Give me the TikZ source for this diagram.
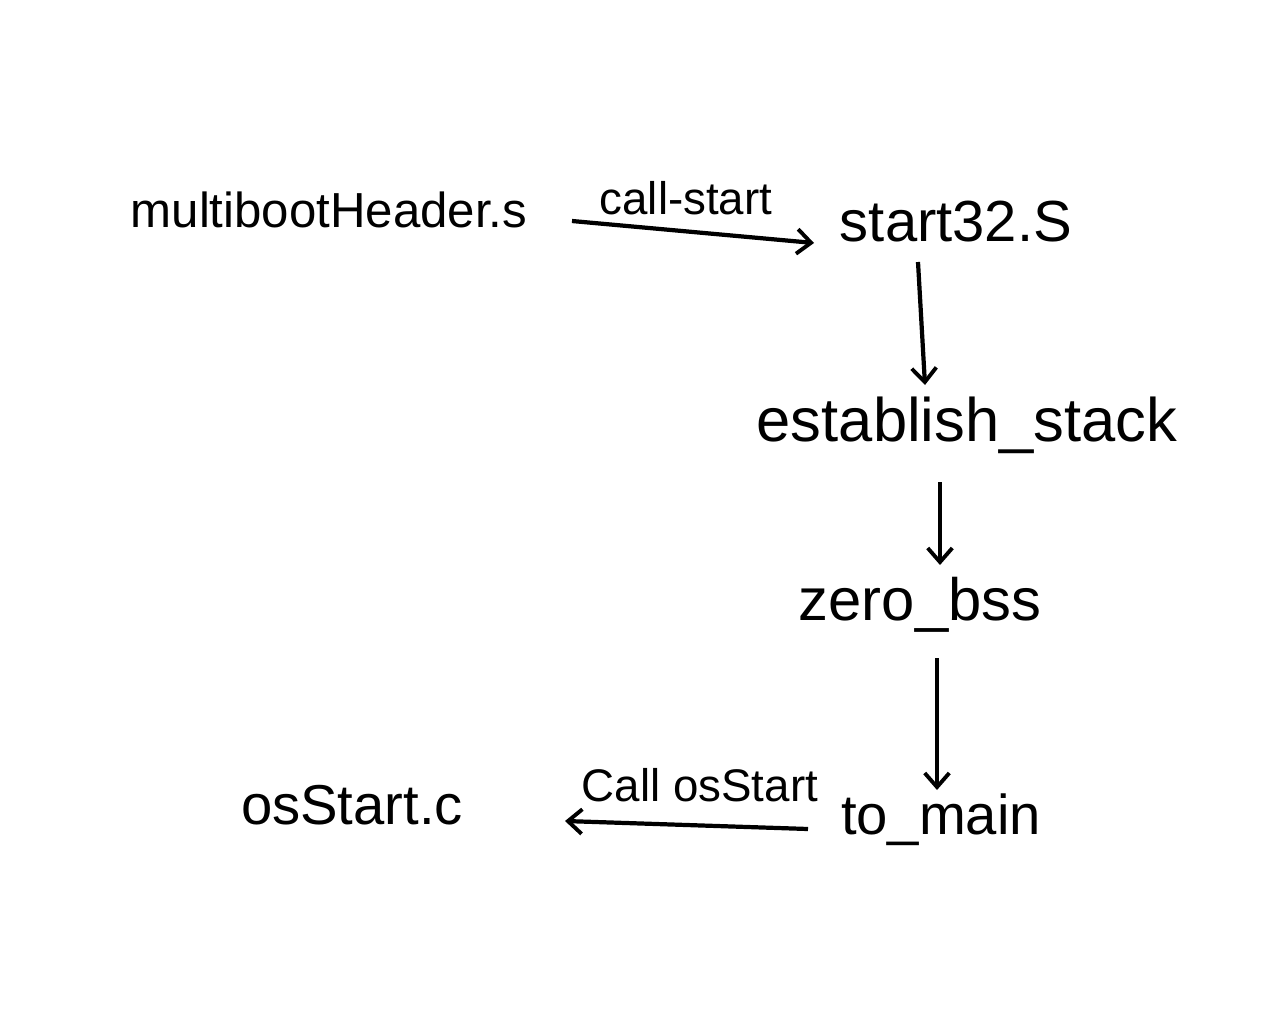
\documentclass[tikz,border=0pt]{standalone}
\usepackage{fontspec}
\setmainfont{Liberation Sans}
\usetikzlibrary{arrows.meta}
\newcommand{\fsz}[1]{\fontsize{#1}{#1}\selectfont}
\begin{document}
\begin{tikzpicture}[x=0.02cm,y=-0.02cm,
  lbl/.style={font=\fsz{30}, inner sep=2pt},
  elbl/.style={font=\fsz{26}, inner sep=2pt},
  flow/.style={line width=2.4pt, -{Straight Barb[length=8pt,width=14pt,line width=2.2pt]}}]
\useasboundingbox (0,0) rectangle (1285,1031);
\node[lbl, font=\fsz{28}] (mb) at (329,210) {multibootHeader.s};
\node[lbl, font=\fsz{33}] (s32) at (956,222) {start32.S};
\node[lbl, font=\fsz{35}] (es) at (967,425) {establish\_stack};
\node[lbl, font=\fsz{34}] (zb) at (920,605) {zero\_bss};
\node[lbl, font=\fsz{32}] (tm) at (941,820) {to\_main};
\node[lbl, font=\fsz{32}] (os) at (352,805) {osStart.c};
\node[elbl] (l1) at (686,198) {call-start};
\node[elbl] (l2) at (700,785) {Call osStart};
\coordinate (a1s) at (572,221);
\coordinate (a1e) at (814,243);
\coordinate (b1s) at (918,262);
\coordinate (b1e) at (925,385);
\coordinate (b2s) at (940,482);
\coordinate (b2e) at (940,565);
\coordinate (b3s) at (937,658);
\coordinate (b3e) at (937,790);
\coordinate (a2s) at (808,829);
\coordinate (a2e) at (565,821);
\draw[flow] (a1s) -- (a1e);
\draw[flow] (b1s) -- (b1e);
\draw[flow] (b2s) -- (b2e);
\draw[flow] (b3s) -- (b3e);
\draw[flow] (a2s) -- (a2e);
\end{tikzpicture}
\end{document}
